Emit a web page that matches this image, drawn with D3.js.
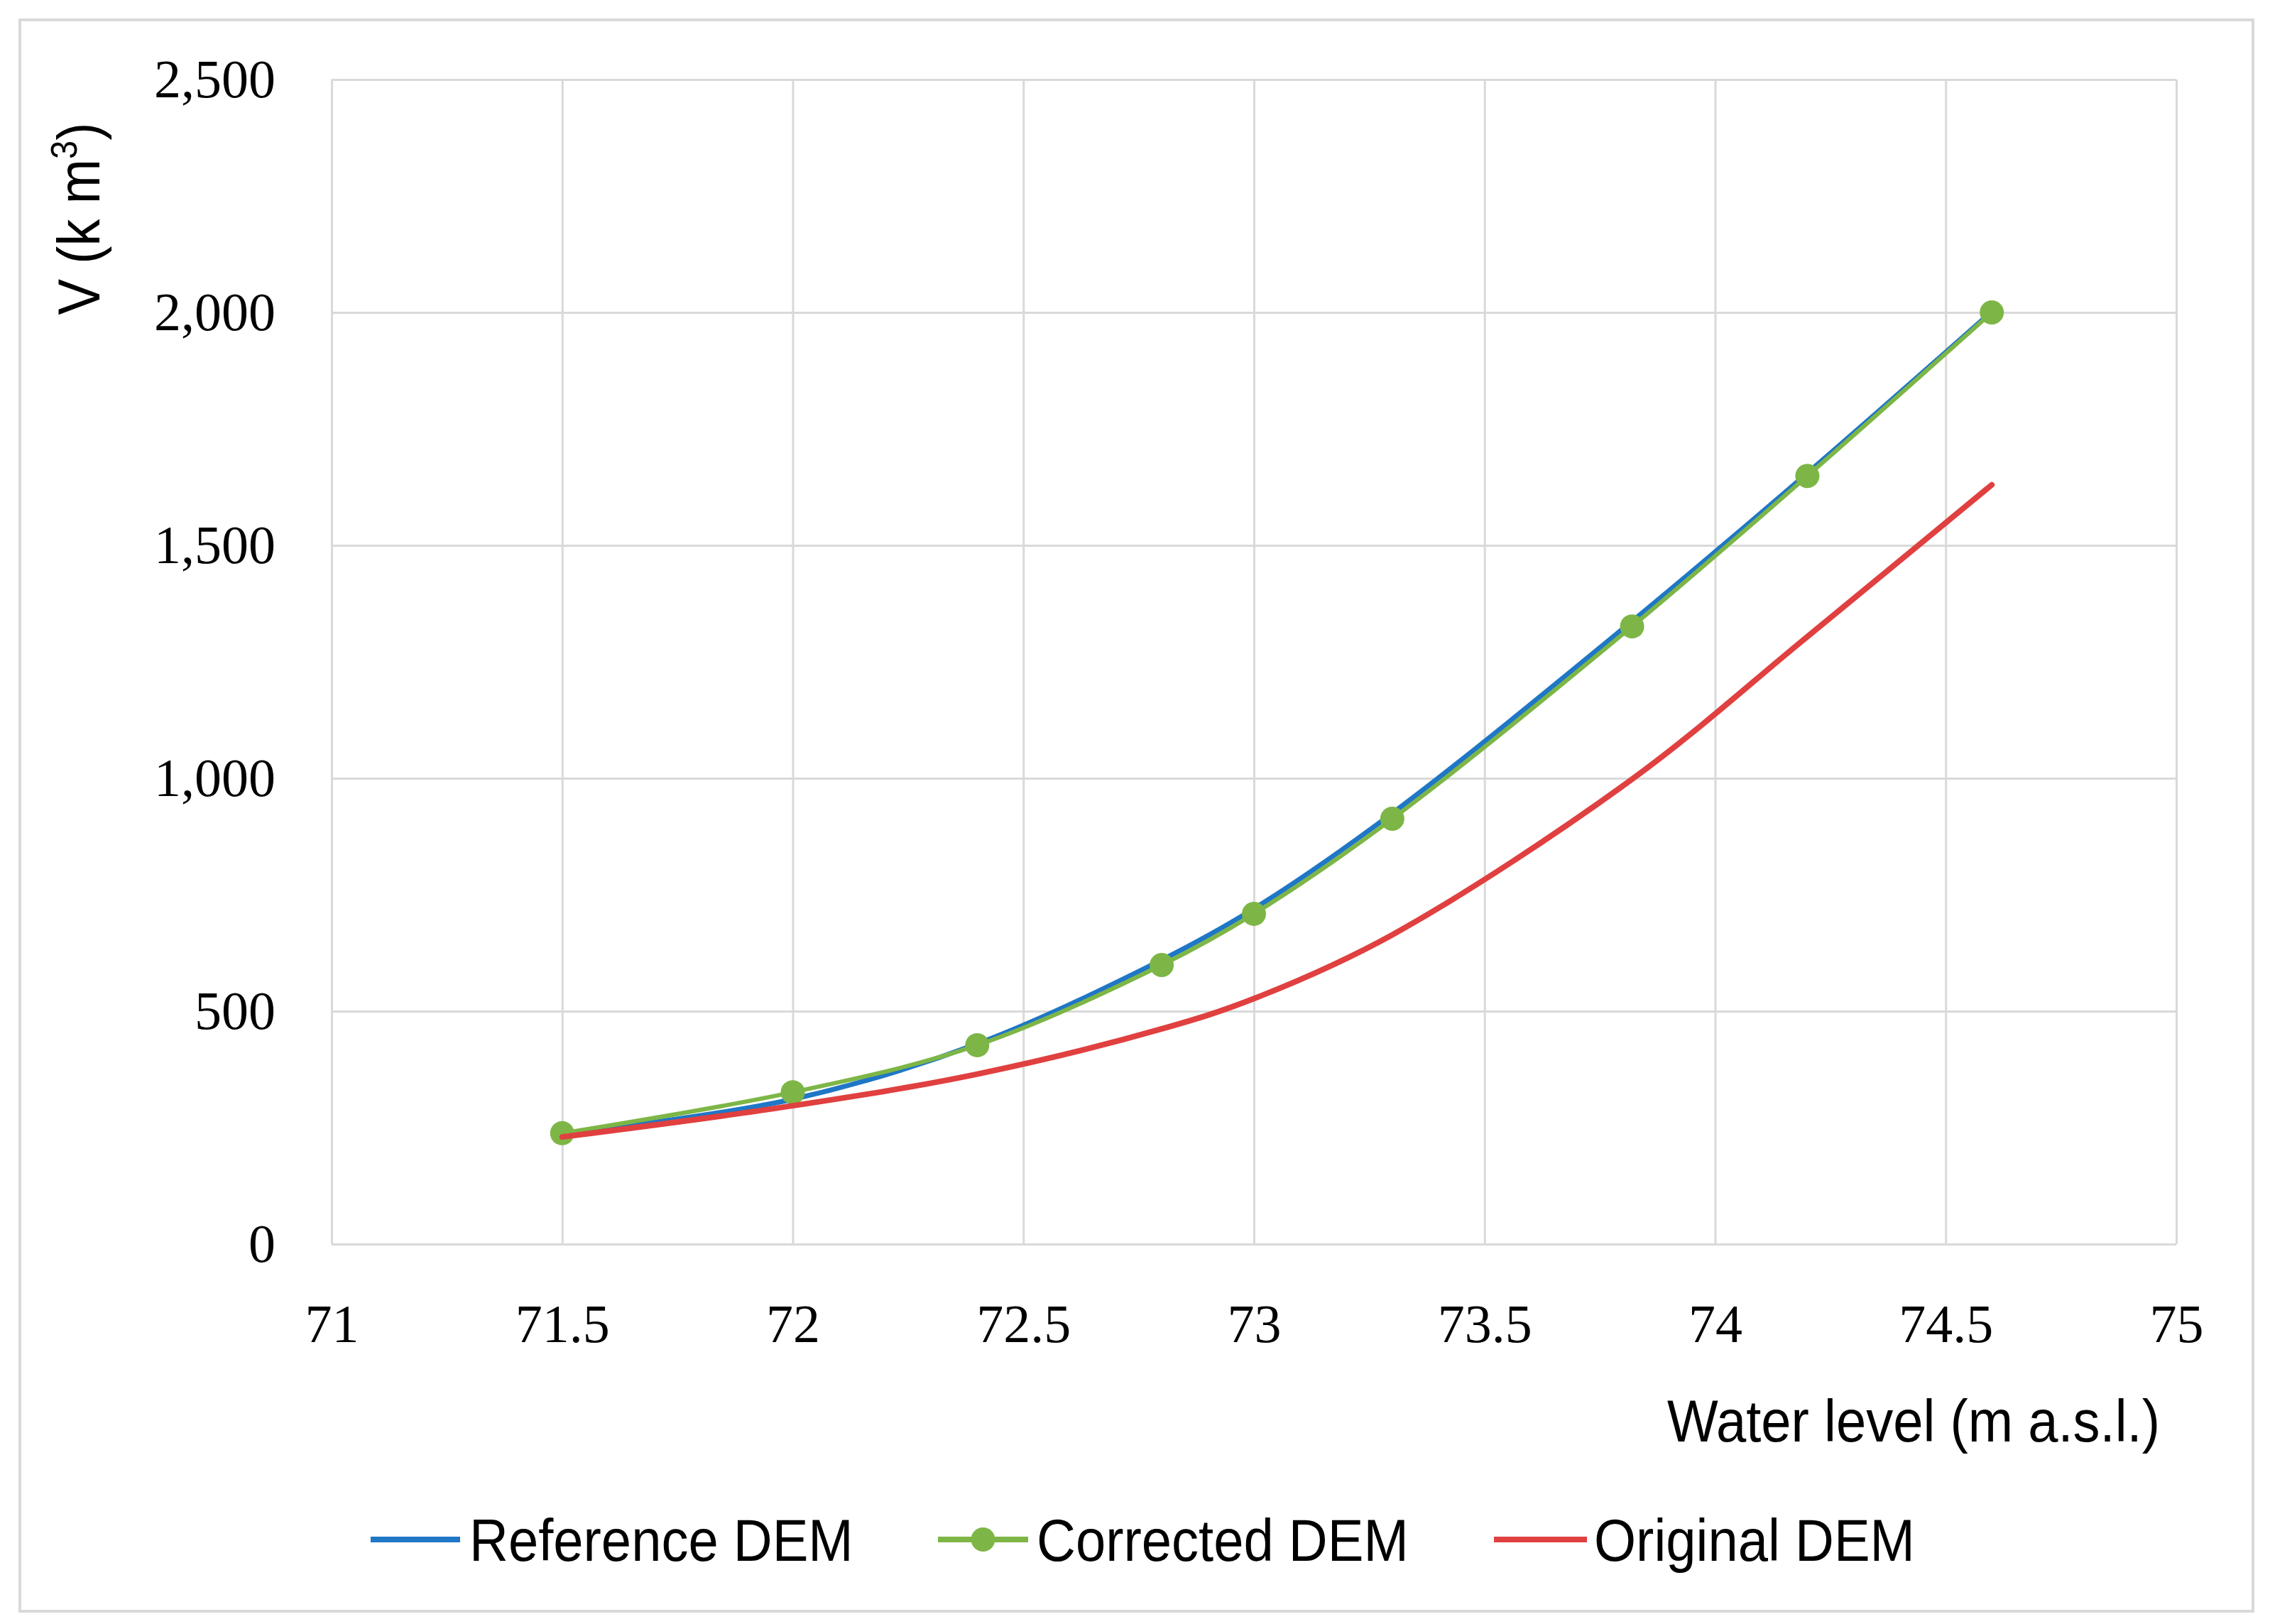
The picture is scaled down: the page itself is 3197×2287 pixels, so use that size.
<!DOCTYPE html>
<html><head><meta charset="utf-8">
<script src="https://cdn.jsdelivr.net/npm/d3@7"></script>
<style>html,body{margin:0;padding:0;background:#fff;} svg{display:block}</style>
</head><body>
<svg id="chart" width="3197" height="2287"></svg>
<script>
// ---- data ----
const waterLevels  = [71.5, 72.0, 72.4, 72.8, 73.0, 73.3, 73.82, 74.2, 74.6];
const referenceDEM = [236, 311, 430, 610, 720, 925, 1337, 1655, 2002];
const correctedDEM = [238, 326, 427, 599, 709, 913, 1326, 1649, 2000];
const originalDEM  = [230, 297, 365, 462, 527, 664, 998, 1304, 1630];
const xTickValues = [71, 71.5, 72, 72.5, 73, 73.5, 74, 74.5, 75];
const yTickValues = [0, 500, 1000, 1500, 2000, 2500];
const seriesNames = ["Reference DEM", "Corrected DEM", "Original DEM"];
const seriesColors = ["#1f77c6", "#7db646", "#e0403f"];
const xTitle = "Water level (m a.s.l.)";

// ---- layout ----
const W = 3197, H = 2287;
const L = 467, R = 3065, T = 112, B = 1752;
const svg = d3.select("#chart");
const serif = "'Liberation Serif', 'Times New Roman', serif";
const sans = "'Liberation Sans', Arial, sans-serif";
const condense = 0.905;

svg.append("rect").attr("x", 0).attr("y", 0).attr("width", W).attr("height", H).attr("fill", "#fff");
svg.append("rect").attr("x", 28).attr("y", 28).attr("width", 3145).attr("height", 2241)
  .attr("fill", "#fff").attr("stroke", "#d9d9d9").attr("stroke-width", 4);

const x = d3.scaleLinear().domain([71, 75]).range([L, R]);
const y = d3.scaleLinear().domain([0, 2500]).range([B, T]);

// grid
const gy = svg.append("g").attr("transform", `translate(${L},0)`)
  .call(d3.axisLeft(y).tickValues(yTickValues).tickSize(-(R - L)).tickFormat(""));
gy.select(".domain").remove();
gy.selectAll("line").attr("stroke", "#d9d9d9").attr("stroke-width", 3);
const gx = svg.append("g").attr("transform", `translate(0,${B})`)
  .call(d3.axisBottom(x).tickValues(xTickValues).tickSize(-(B - T)).tickFormat(""));
gx.select(".domain").remove();
gx.selectAll("line").attr("stroke", "#d9d9d9").attr("stroke-width", 3);

// tick labels
const ay = svg.append("g").attr("transform", `translate(${L},0)`)
  .call(d3.axisLeft(y).tickValues(yTickValues).tickSize(0).tickPadding(L - 388).tickFormat(d3.format(",")));
ay.select(".domain").remove();
ay.selectAll("text").attr("font-family", serif).attr("font-size", 76).attr("fill", "#000");
const ax = svg.append("g").attr("transform", `translate(0,${B})`)
  .call(d3.axisBottom(x).tickValues(xTickValues).tickSize(0).tickPadding(84).tickFormat(d => String(d)));
ax.select(".domain").remove();
ax.selectAll("text").attr("font-family", serif).attr("font-size", 76).attr("fill", "#000");

// axis titles
const yt = svg.append("text").attr("transform", `translate(140,308) rotate(-90) scale(${condense},1)`)
  .attr("text-anchor", "middle").attr("font-family", sans).attr("font-size", 84).attr("fill", "#000");
yt.append("tspan").text("V (k m");
yt.append("tspan").text("3").attr("font-size", 52).attr("dy", -32);
yt.append("tspan").text(")").attr("dy", 32);

svg.append("text").attr("transform", `translate(3042,2030) scale(${condense},1)`)
  .attr("text-anchor", "end").attr("font-family", sans).attr("font-size", 84).attr("fill", "#000")
  .text(xTitle);

// lines
const series = [referenceDEM, correctedDEM, originalDEM].map((vals, i) => ({
  name: seriesNames[i], color: seriesColors[i],
  pts: waterLevels.map((w, j) => ({ x: w, y: vals[j] }))
}));
const line = d3.line().x(d => x(d.x)).y(d => y(d.y)).curve(d3.curveCatmullRom.alpha(0.5));
const widths = [7, 6, 8];
series.forEach((s, i) => {
  svg.append("path").datum(s.pts).attr("d", line).attr("fill", "none")
    .attr("stroke", s.color).attr("stroke-width", widths[i]).attr("stroke-linecap", "round").attr("stroke-linejoin", "round");
  if (i === 1) {
    svg.append("g").selectAll("circle").data(s.pts).join("circle")
      .attr("cx", d => x(d.x)).attr("cy", d => y(d.y)).attr("r", 17).attr("fill", s.color);
  }
});

// legend
const legendItems = [
  { x0: 522, x1: 648, tx: 661 },
  { x0: 1321, x1: 1448, tx: 1460 },
  { x0: 2104, x1: 2235, tx: 2245 }
];
const ly = 2168;
legendItems.forEach((it, i) => {
  svg.append("line").attr("x1", it.x0).attr("x2", it.x1).attr("y1", ly).attr("y2", ly)
    .attr("stroke", seriesColors[i]).attr("stroke-width", 8);
  if (i === 1) svg.append("circle").attr("cx", (it.x0 + it.x1) / 2).attr("cy", ly).attr("r", 17).attr("fill", seriesColors[i]);
  svg.append("text").attr("transform", `translate(${it.tx},2198) scale(${condense},1)`)
    .attr("font-family", sans).attr("font-size", 84).attr("fill", "#000").text(seriesNames[i]);
});
</script>
</body></html>
